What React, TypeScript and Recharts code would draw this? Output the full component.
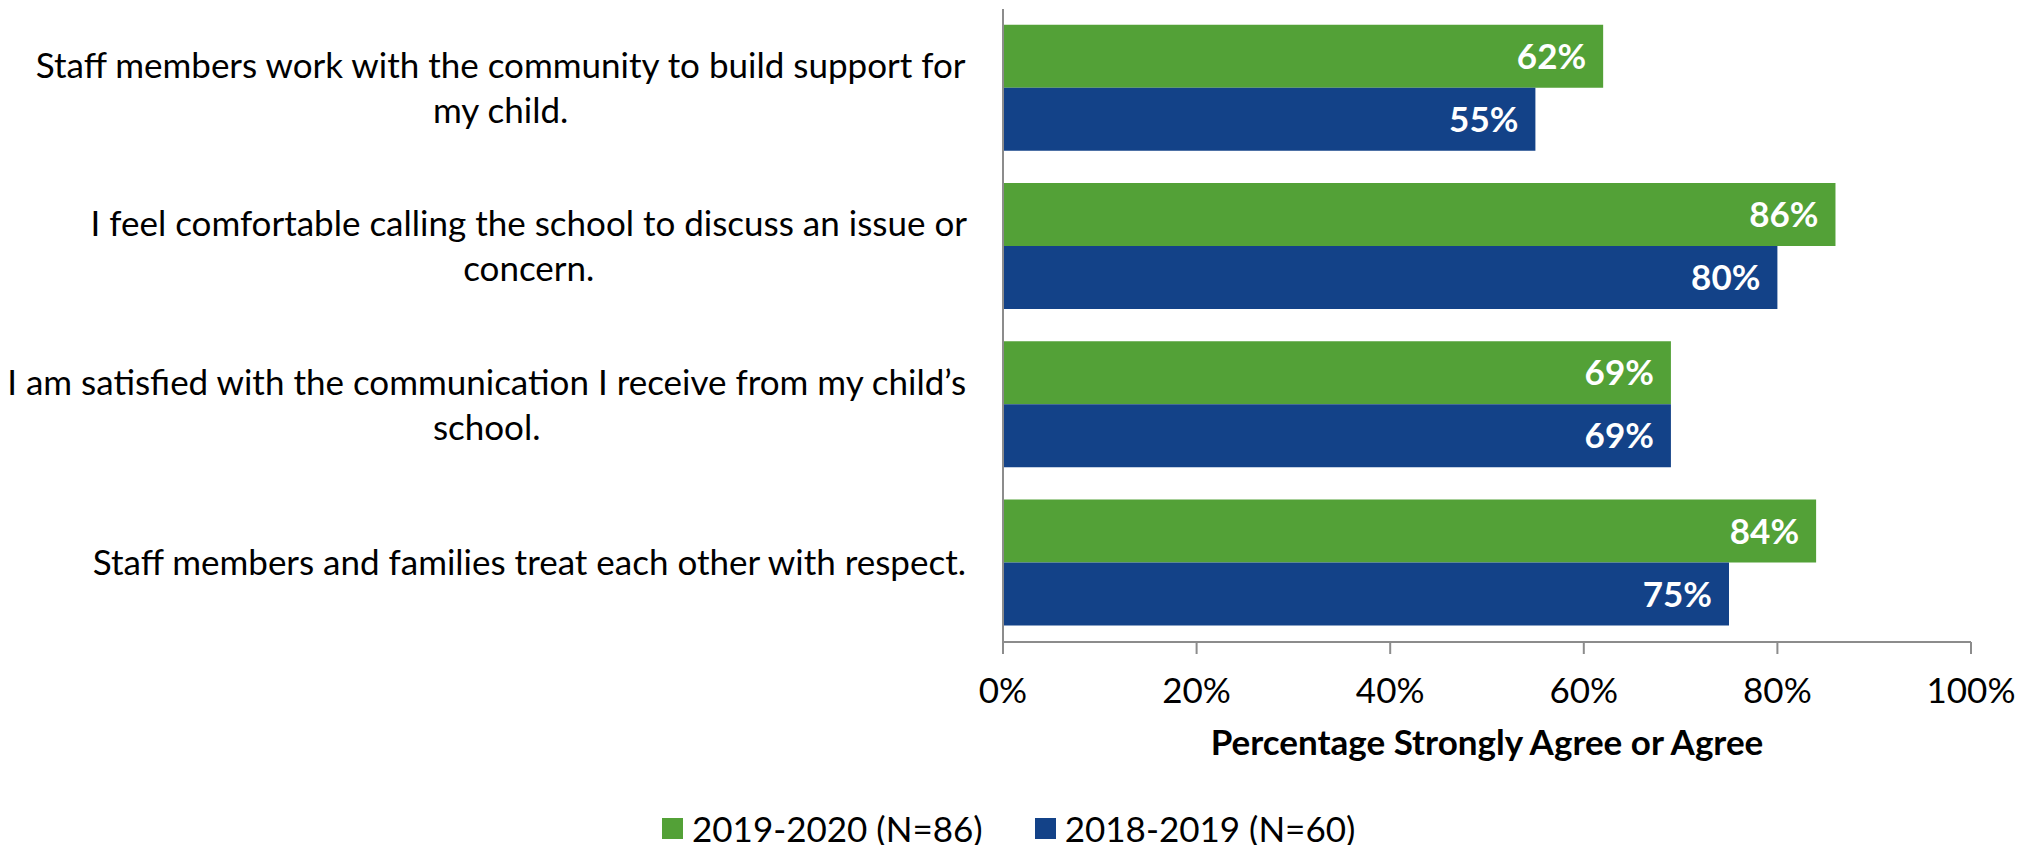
import { Bar, BarChart, LabelList, Legend, XAxis, YAxis } from "recharts";

const questionLines = [
  ["Staff members work with the community to build support for", "my child."],
  ["I feel comfortable calling the school to discuss an issue or", "concern."],
  ["I am satisfied with the communication I receive from my child\u2019s", "school."],
  ["Staff members and families treat each other with respect."],
];
const questions = questionLines.map((l) => l.join(" "));
const pct2020 = [62, 86, 69, 84];
const pct2019 = [55, 80, 69, 75];
const xTicks = [0, 20, 40, 60, 80, 100];
const boundaryTicks = [0, 1, 2, 3, 4];
const seriesNames = ["2019-2020 (N=86)", "2018-2019 (N=60)"];

const GREEN = "#53a137";
const BLUE = "#134288";
const AXIS = "#8c8c8c";
const FONT = "Lato, 'Noto Sans', sans-serif";
const SIZE = 35;
const LINE_H = 45;

const data = questions.map((q, i) => ({
  question: q,
  y2020: pct2020[i],
  y2019: pct2019[i],
}));

let ctx: CanvasRenderingContext2D | null = null;
function measure(text: string) {
  if (!ctx) ctx = document.createElement("canvas").getContext("2d");
  if (!ctx) return text.length * SIZE * 0.5;
  ctx.font = `${SIZE}px ${FONT}`;
  return ctx.measureText(text).width;
}

function QuestionTick({ x, y, payload }: any) {
  const idx = questions.indexOf(payload.value);
  const lines = idx >= 0 ? questionLines[idx] : [String(payload.value)];
  const maxW = Math.max(...lines.map(measure));
  const cap = SIZE * 0.72;
  const first = y - ((lines.length - 1) * LINE_H - cap) / 2;
  return (
    <g>
      {lines.map((line, i) => (
        <text
          key={i}
          x={x - maxW / 2}
          y={first + i * LINE_H}
          textAnchor="middle"
          fontSize={SIZE}
          fill="#000"
        >
          {line}
        </text>
      ))}
    </g>
  );
}

function LegendContent({ payload }: any) {
  const items = [...(payload || [])].sort(
    (a: any, b: any) => seriesNames.indexOf(a.value) - seriesNames.indexOf(b.value)
  );
  return (
    <div style={{ display: "flex", alignItems: "center", height: 40, fontSize: SIZE }}>
      {items.map((p: any, i: number) => (
        <div key={i} style={{ display: "flex", alignItems: "center", marginRight: 52 }}>
          <span style={{ width: 21, height: 21, background: p.color, marginRight: 9 }} />
          <span style={{ color: "#000", whiteSpace: "nowrap" }}>{p.value}</span>
        </div>
      ))}
    </div>
  );
}

export default function App() {
  return (
    <div style={{ fontFamily: FONT, width: 2033, height: 845 }}>
      <style>{"body{margin:0}"}</style>
      <BarChart
        width={2033}
        height={845}
        data={data}
        layout="vertical"
        margin={{ top: 9, right: 62, left: 0, bottom: 0 }}
        barCategoryGap="10%"
        barGap={0}
      >
        <XAxis
          type="number"
          domain={[0, 100]}
          ticks={xTicks}
          interval={0}
          tickFormatter={(v) => `${v}%`}
          height={203}
          tickSize={12}
          tickMargin={24}
          axisLine={{ stroke: AXIS, strokeWidth: 2 }}
          tickLine={{ stroke: AXIS, strokeWidth: 2 }}
          tick={{ fill: "#000", fontSize: SIZE }}
          label={{
            value: "Percentage Strongly Agree or Agree",
            position: "insideTop",
            offset: 88,
            fontSize: SIZE,
            fontWeight: 700,
            fill: "#000",
          }}
        />
        <YAxis
          type="category"
          dataKey="question"
          width={1003}
          tickSize={0}
          tickMargin={36}
          tickLine={false}
          axisLine={{ stroke: AXIS, strokeWidth: 2 }}
          tick={<QuestionTick />}
          interval={0}
        />
        <YAxis
          yAxisId="bounds"
          type="number"
          domain={[0, 4]}
          ticks={boundaryTicks}
          allowDataOverflow
          width={0}
          tickSize={10}
          tick={false}
          axisLine={false}
          tickLine={{ stroke: AXIS, strokeWidth: 2 }}
          interval={0}
        />
        <Legend
          layout="horizontal"
          verticalAlign="middle"
          align="center"
          wrapperStyle={{ top: 808, left: 662, width: "auto" }}
          content={<LegendContent />}
        />
        <Bar dataKey="y2020" name={seriesNames[0]} fill={GREEN} isAnimationActive={false}>
          <LabelList
            dataKey="y2020"
            position="insideRight"
            offset={17}
            formatter={(v: any) => `${v}%`}
            fill="#fff"
            fontSize={SIZE}
            fontWeight={700}
          />
        </Bar>
        <Bar dataKey="y2019" name={seriesNames[1]} fill={BLUE} isAnimationActive={false}>
          <LabelList
            dataKey="y2019"
            position="insideRight"
            offset={17}
            formatter={(v: any) => `${v}%`}
            fill="#fff"
            fontSize={SIZE}
            fontWeight={700}
          />
        </Bar>
      </BarChart>
    </div>
  );
}
